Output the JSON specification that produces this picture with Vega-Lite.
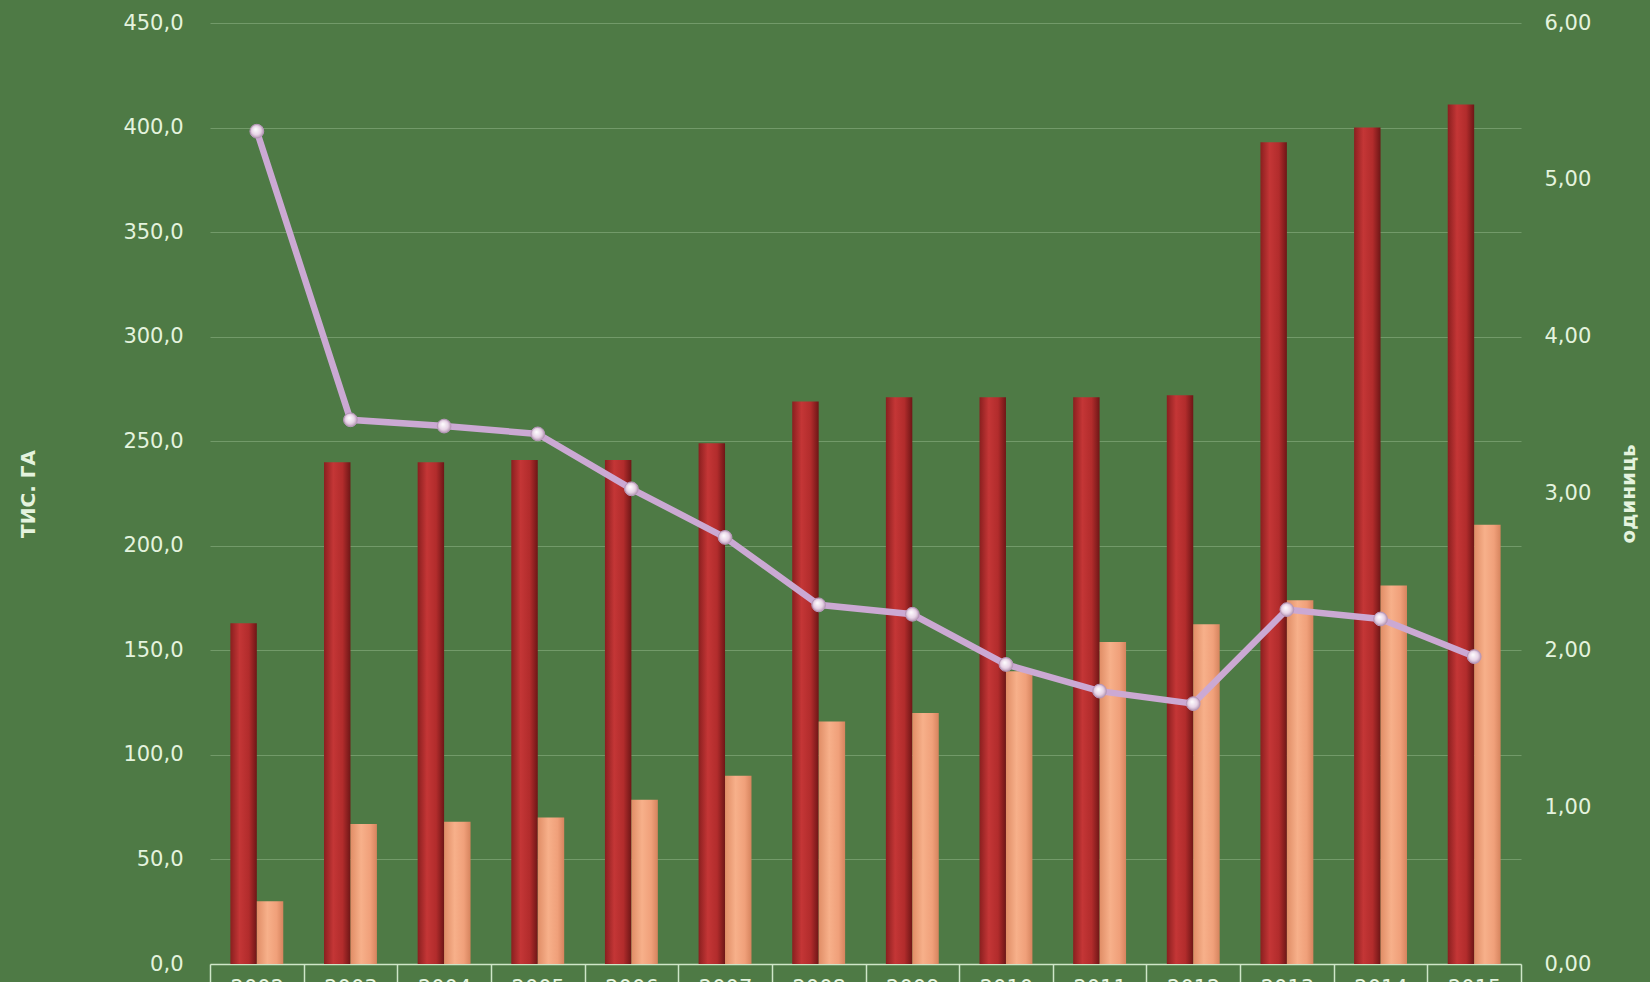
{
  "$schema": "https://vega.github.io/schema/vega-lite/v6.json",
  "autosize": "none",
  "width": 1311,
  "height": 941,
  "padding": {"left": 210, "top": 23, "right": 129, "bottom": 18},
  "background": "#4e7a45",
  "config": {
    "view": {"stroke": null},
    "font": "DejaVu Sans",
    "axis": {"labelColor": "#e4f3de", "titleColor": "#e4f3de", "labelFont": "DejaVu Sans", "titleFont": "DejaVu Sans"}
  },
  "datasets": {
    "bars": [
      {"year": "2002", "series": "s1", "value": 163},
      {"year": "2003", "series": "s1", "value": 240},
      {"year": "2004", "series": "s1", "value": 240},
      {"year": "2005", "series": "s1", "value": 241},
      {"year": "2006", "series": "s1", "value": 241},
      {"year": "2007", "series": "s1", "value": 249},
      {"year": "2008", "series": "s1", "value": 269},
      {"year": "2009", "series": "s1", "value": 271},
      {"year": "2010", "series": "s1", "value": 271},
      {"year": "2011", "series": "s1", "value": 271},
      {"year": "2012", "series": "s1", "value": 272},
      {"year": "2013", "series": "s1", "value": 393},
      {"year": "2014", "series": "s1", "value": 400},
      {"year": "2015", "series": "s1", "value": 411},
      {"year": "2002", "series": "s2", "value": 30},
      {"year": "2003", "series": "s2", "value": 67},
      {"year": "2004", "series": "s2", "value": 68},
      {"year": "2005", "series": "s2", "value": 70},
      {"year": "2006", "series": "s2", "value": 78.5},
      {"year": "2007", "series": "s2", "value": 90},
      {"year": "2008", "series": "s2", "value": 116},
      {"year": "2009", "series": "s2", "value": 120},
      {"year": "2010", "series": "s2", "value": 140},
      {"year": "2011", "series": "s2", "value": 154},
      {"year": "2012", "series": "s2", "value": 162.5},
      {"year": "2013", "series": "s2", "value": 174},
      {"year": "2014", "series": "s2", "value": 181},
      {"year": "2015", "series": "s2", "value": 210}
    ],
    "ratio": [
      {"year": "2002", "ratio": 5.31},
      {"year": "2003", "ratio": 3.47},
      {"year": "2004", "ratio": 3.43},
      {"year": "2005", "ratio": 3.38},
      {"year": "2006", "ratio": 3.03},
      {"year": "2007", "ratio": 2.72},
      {"year": "2008", "ratio": 2.29},
      {"year": "2009", "ratio": 2.23},
      {"year": "2010", "ratio": 1.91},
      {"year": "2011", "ratio": 1.74},
      {"year": "2012", "ratio": 1.66},
      {"year": "2013", "ratio": 2.26},
      {"year": "2014", "ratio": 2.20},
      {"year": "2015", "ratio": 1.96}
    ]
  },
  "layer": [
    {
      "data": {"name": "bars"},
      "encoding": {
        "x": {
          "field": "year", "type": "nominal",
          "scale": {"paddingInner": 0, "paddingOuter": 0},
          "axis": {
            "title": null, "labelAngle": 0, "labelFontSize": 21, "labelPadding": -7,
            "tickBand": "extent", "ticks": true, "tickSize": 20, "tickColor": "#cfe6c8", "tickWidth": 1.5,
            "domainColor": "#cfe6c8", "domainWidth": 1.5, "grid": false
          }
        },
        "xOffset": {"field": "series", "type": "nominal", "scale": {"domain": ["s1", "s2"], "paddingInner": 0, "paddingOuter": 0.77}},
        "y": {
          "field": "value", "type": "quantitative",
          "scale": {"domain": [0, 450], "nice": false},
          "axis": {
            "title": "ТИС. ГА", "titleFontSize": 20, "titleFontWeight": "bold", "titlePadding": 84,
            "values": [0, 50, 100, 150, 200, 250, 300, 350, 400, 450],
            "labelExpr": "replace(format(datum.value, '.1f'), '.', ',')",
            "labelFontSize": 21, "labelPadding": 27, "ticks": false, "domain": false,
            "grid": true, "gridColor": "#7fa575", "gridOpacity": 0.75, "gridWidth": 1
          }
        }
      },
      "layer": [
        {
          "transform": [{"filter": "datum.series === 's1'"}],
          "mark": {
            "type": "bar",
            "fill": {"gradient": "linear", "x1": 0, "x2": 1, "y1": 0, "y2": 0,
              "stops": [{"offset": 0, "color": "#8a1f1f"}, {"offset": 0.35, "color": "#c43636"}, {"offset": 0.7, "color": "#b22c2c"}, {"offset": 1, "color": "#6e1616"}]}
          }
        },
        {
          "transform": [{"filter": "datum.series === 's2'"}],
          "mark": {
            "type": "bar",
            "fill": {"gradient": "linear", "x1": 0, "x2": 1, "y1": 0, "y2": 0,
              "stops": [{"offset": 0, "color": "#e08d66"}, {"offset": 0.4, "color": "#f7b08a"}, {"offset": 0.75, "color": "#f0a07a"}, {"offset": 1, "color": "#d6845e"}]}
          }
        }
      ]
    },
    {
      "data": {"name": "ratio"},
      "encoding": {
        "x": {"field": "year", "type": "nominal"},
        "y": {
          "field": "ratio", "type": "quantitative",
          "scale": {"domain": [0, 6], "nice": false},
          "axis": {
            "orient": "right", "title": "одиниць", "titleFontSize": 20, "titleFontWeight": "bold", "titlePadding": 48, "titleAngle": 270,
            "values": [0, 1, 2, 3, 4, 5, 6],
            "labelExpr": "replace(format(datum.value, '.2f'), '.', ',')",
            "labelFontSize": 21, "labelPadding": 23, "ticks": false, "domain": false, "grid": false
          }
        }
      },
      "layer": [
        {"mark": {"type": "line", "stroke": "#cba9d3", "strokeWidth": 6.5}},
        {"mark": {"type": "point", "filled": true, "size": 190, "shape": "circle", "opacity": 1,
          "fill": {"gradient": "radial", "x1": 0.4, "y1": 0.35, "r1": 0, "x2": 0.5, "y2": 0.5, "r2": 0.55,
            "stops": [{"offset": 0, "color": "#ffffff"}, {"offset": 0.6, "color": "#e7d3e6"}, {"offset": 1, "color": "#a98aa8"}]},
          "stroke": "#b898bb", "strokeWidth": 1}}
      ]
    }
  ],
  "resolve": {"scale": {"y": "independent"}}
}
